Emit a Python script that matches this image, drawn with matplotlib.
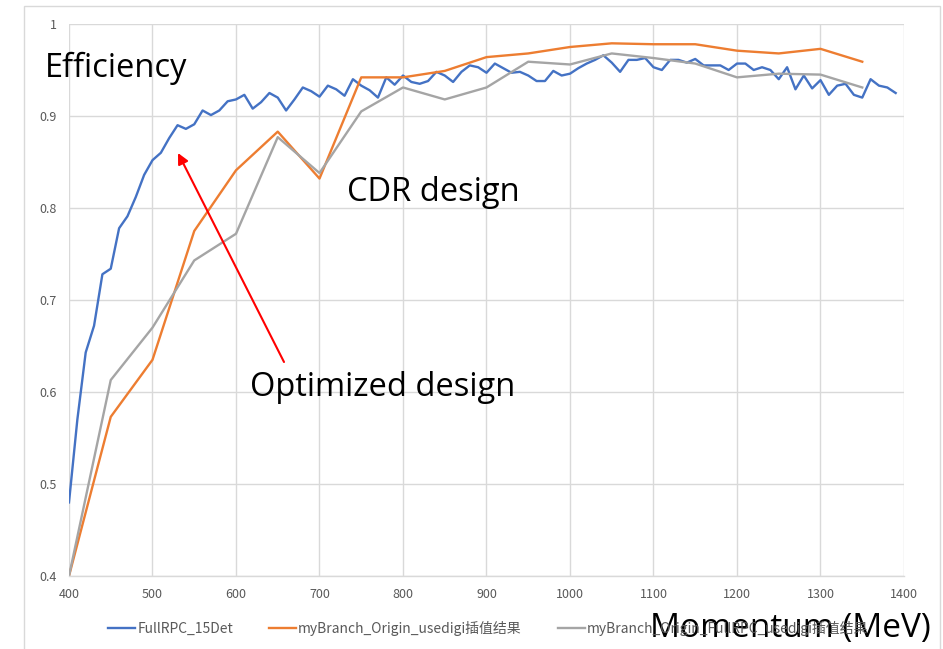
import matplotlib
matplotlib.use("Agg")
import matplotlib.pyplot as plt
from matplotlib.patches import Rectangle

plt.rcParams['font.family'] = ['Noto Sans CJK SC', 'DejaVu Sans']

# ---- data ----
momentum_blue = list(range(400, 1400, 10))
eff_blue = [0.480, 0.570, 0.643, 0.672, 0.728, 0.734, 0.778, 0.791, 0.812, 0.836,
            0.852, 0.860, 0.876, 0.890, 0.886, 0.891, 0.906, 0.901, 0.906, 0.916,
            0.918, 0.923, 0.908, 0.915, 0.925, 0.920, 0.906, 0.918, 0.931, 0.927,
            0.921, 0.933, 0.929, 0.922, 0.940, 0.933, 0.928, 0.920, 0.942, 0.934,
            0.944, 0.937, 0.935, 0.938, 0.948, 0.944, 0.937, 0.948, 0.955, 0.953,
            0.947, 0.957, 0.952, 0.947, 0.948, 0.944, 0.938, 0.938, 0.949, 0.944,
            0.946, 0.952, 0.957, 0.961, 0.966, 0.958, 0.948, 0.961, 0.961, 0.963,
            0.953, 0.950, 0.961, 0.961, 0.958, 0.962, 0.955, 0.955, 0.955, 0.950,
            0.957, 0.957, 0.950, 0.953, 0.950, 0.940, 0.953, 0.929, 0.944, 0.930,
            0.939, 0.923, 0.933, 0.935, 0.923, 0.920, 0.940, 0.933, 0.931, 0.925]

momentum_50 = list(range(400, 1400, 50))
eff_orange = [0.400, 0.573, 0.635, 0.775, 0.841, 0.883, 0.832, 0.942, 0.942, 0.949,
              0.964, 0.968, 0.975, 0.979, 0.978, 0.978, 0.971, 0.968, 0.973, 0.959]
eff_gray = [0.400, 0.613, 0.670, 0.743, 0.772, 0.877, 0.838, 0.905, 0.931, 0.918,
            0.931, 0.959, 0.956, 0.968, 0.963, 0.957, 0.942, 0.946, 0.945, 0.931]

labels = ["FullRPC_15Det", "myBranch_Origin_usedigi插值结果",
          "myBranch_Origin_FullRPC_usedigi插值结果"]
x_ticks = list(range(400, 1500, 100))
y_ticks = [0.4, 0.5, 0.6, 0.7, 0.8, 0.9, 1.0]
y_tick_labels = ["0.4", "0.5", "0.6", "0.7", "0.8", "0.9", "1"]

# ---- figure ----
W, H = 943, 649
fig = plt.figure(figsize=(W / 100, H / 100), dpi=100)
fig.patch.set_facecolor("white")

# chart-area border
fig.patches.append(Rectangle((24 / W, -0.01), (940 - 24) / W, 1 - 6 / H + 0.01,
                             transform=fig.transFigure, fill=False,
                             edgecolor="#d9d9d9", linewidth=1.0))

ax = fig.add_axes([69 / W, 1 - 576 / H, (904 - 69) / W, (576 - 24) / H])

ax.plot(momentum_blue, eff_blue, color="#4472C4", lw=1.7, label=labels[0])
ax.plot(momentum_50, eff_orange, color="#ED7D31", lw=1.7, label=labels[1])
ax.plot(momentum_50, eff_gray, color="#A5A5A5", lw=1.7, label=labels[2])

ax.set_xlim(400, 1400)
ax.set_ylim(0.4, 1.0)
ax.set_xticks(x_ticks)
ax.set_xticklabels([str(v) for v in x_ticks])
ax.set_yticks(y_ticks)
ax.set_yticklabels(y_tick_labels)
ax.grid(True, color="#d9d9d9", lw=1.0)
ax.set_axisbelow(True)
for s in ["top", "right", "left"]:
    ax.spines[s].set_visible(False)
ax.spines["bottom"].set_color("#d9d9d9")
ax.spines["bottom"].set_linewidth(1.0)
ax.tick_params(length=0, labelsize=9, labelcolor="#595959", pad=9)

# legend
fig.legend(loc="center left", bbox_to_anchor=(108 / W, 1 - 628 / H), ncol=3,
           frameon=False, fontsize=10, handlelength=1.95, handletextpad=0.15,
           columnspacing=2.6, borderpad=0, borderaxespad=0,
           labelcolor="#595959")

# annotations
big = dict(color="black", family=["Open Sans", "DejaVu Sans"], va="center", ha="left")
fig.text(45 / W, 1 - 68 / H, "Efficiency", fontsize=23.5, **big)
fig.text(347 / W, 1 - 192 / H, "CDR design", fontsize=23.5, **big)
fig.text(250 / W, 1 - 387 / H, "Optimized design", fontsize=23.5, **big)
fig.text(650 / W, 1 - 629 / H, "Momentum (MeV)", fontsize=24, **big)

fig.add_artist(plt.Annotation("", xy=(178 / W, 1 - 153 / H), xycoords="figure fraction",
                              xytext=(284 / W, 1 - 362 / H), textcoords="figure fraction",
                              arrowprops=dict(arrowstyle="-|>", color="red", lw=1.5,
                                              mutation_scale=16, shrinkA=0, shrinkB=0)))

fig.savefig("out.png", dpi=100)
